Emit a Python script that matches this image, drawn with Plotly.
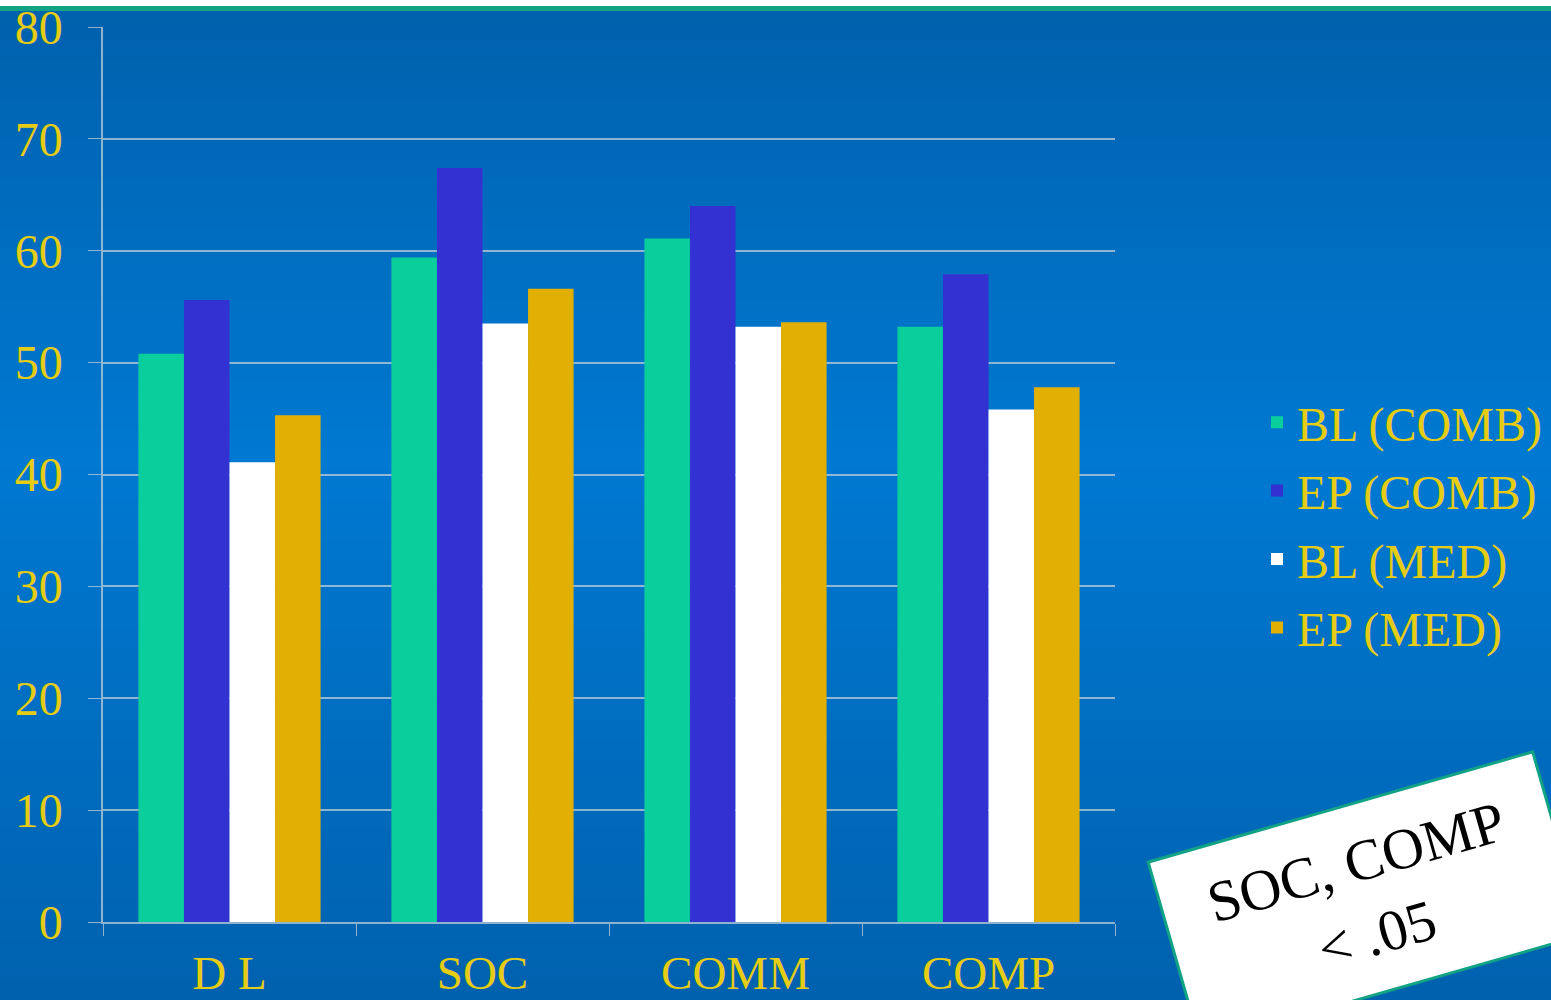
import plotly.graph_objects as go

# Subscale scores per domain, baseline (BL) and endpoint (EP) for each arm
categories = ["D L", "SOC", "COMM", "COMP"]
bl_comb = [50.8, 59.4, 61.1, 53.2]
ep_comb = [55.6, 67.4, 64.0, 57.9]
bl_med = [41.1, 53.5, 53.2, 45.8]
ep_med = [45.3, 56.6, 53.6, 47.8]
y_ticks = [0, 10, 20, 30, 40, 50, 60, 70, 80]

series = [
    ("BL (COMB)", bl_comb, "#0ACF9C"),
    ("EP (COMB)", ep_comb, "#3431D2"),
    ("BL (MED)", bl_med, "#FFFFFF"),
    ("EP (MED)", ep_med, "#E2B004"),
]

W, H = 1551, 1000
L, R, T, B = 103, 1115, 27, 922  # plot area in pixels
SERIF = "Liberation Serif, Times New Roman, serif"
GOLD_TEXT = "#E6CC14"
GRID = "rgba(190,205,215,0.75)"

fig = go.Figure()
for i, (name, vals, col) in enumerate(series):
    fig.add_trace(go.Bar(
        x=categories, y=vals, name=name, marker_color=col,
        marker_line_width=0, legendgroup=f"g{i}",
    ))


def px_to_paper_x(px):
    return (px - L) / (R - L)


def px_to_paper_y(py):
    return (B - py) / (B - T)


def lerp(c1, c2, t):
    return tuple(round(a + (b - a) * t) for a, b in zip(c1, c2))


# Vertical blue gradient background built from thin strips
top_c, mid_c, bot_c = (0, 96, 172), (0, 121, 210), (0, 97, 174)
shapes = []
n = 100
for k in range(n):
    y0 = k * H / n
    y1 = (k + 1) * H / n + 1
    yc = (y0 + y1) / 2
    if yc < 460:
        c = lerp(top_c, mid_c, yc / 460)
    else:
        c = lerp(mid_c, bot_c, (yc - 460) / (H - 460))
    shapes.append(dict(
        type="rect", xref="paper", yref="paper", layer="below",
        x0=px_to_paper_x(-2), x1=px_to_paper_x(W + 2),
        y0=px_to_paper_y(y1), y1=px_to_paper_y(y0 - 1),
        fillcolor=f"rgb{c}", line_width=0,
    ))
# White band and green rule along the top edge
shapes.append(dict(type="rect", xref="paper", yref="paper", layer="below",
                   x0=px_to_paper_x(-2), x1=px_to_paper_x(W + 2),
                   y0=px_to_paper_y(6), y1=px_to_paper_y(-2),
                   fillcolor="white", line_width=0))
shapes.append(dict(type="rect", xref="paper", yref="paper", layer="below",
                   x0=px_to_paper_x(-2), x1=px_to_paper_x(W + 2),
                   y0=px_to_paper_y(11), y1=px_to_paper_y(6),
                   fillcolor="#12A384", line_width=0))

fig.update_layout(
    width=W, height=H,
    margin=dict(l=L, r=W - R, t=T, b=H - B, pad=0, autoexpand=False),
    paper_bgcolor="#0070C4",
    plot_bgcolor="rgba(0,0,0,0)",
    barmode="group",
    bargap=0.28,
    bargroupgap=0,
    shapes=shapes,
    font=dict(family=SERIF, color=GOLD_TEXT, size=40),
    showlegend=True,
    legend=dict(
        x=px_to_paper_x(1257), xanchor="left",
        y=px_to_paper_y(525), yanchor="middle",
        bgcolor="rgba(0,0,0,0)",
        font=dict(family=SERIF, size=48, color=GOLD_TEXT),
        traceorder="grouped", tracegroupgap=3,
        itemwidth=30,
    ),
    xaxis=dict(
        showgrid=False, showline=True, linecolor=GRID, linewidth=1.5,
        ticks="outside", tickson="boundaries", ticklen=12, tickcolor=GRID,
        tickfont=dict(family=SERIF, size=47, color=GOLD_TEXT),
        ticklabelstandoff=9,
    ),
    yaxis=dict(
        range=[0, 80], tickvals=y_ticks,
        showgrid=True, gridcolor=GRID, gridwidth=1.5,
        showline=True, linecolor=GRID, linewidth=1.5,
        ticks="outside", ticklen=13, tickcolor=GRID,
        tickfont=dict(family=SERIF, size=48, color=GOLD_TEXT),
        ticklabelstandoff=16,
        zeroline=False,
    ),
)

# Significance callout, tilted in the lower-right corner
fig.add_annotation(
    xref="paper", yref="paper",
    x=px_to_paper_x(1366), y=px_to_paper_y(898),
    xanchor="center", yanchor="middle",
    text="SOC, COMP<br>&lt; .05",
    showarrow=False, textangle=-16,
    font=dict(family=SERIF, size=58, color="black"),
    bgcolor="white", bordercolor="#12A384", borderwidth=3,
    width=395, height=185, align="center",
)

fig.write_html("out.html")
